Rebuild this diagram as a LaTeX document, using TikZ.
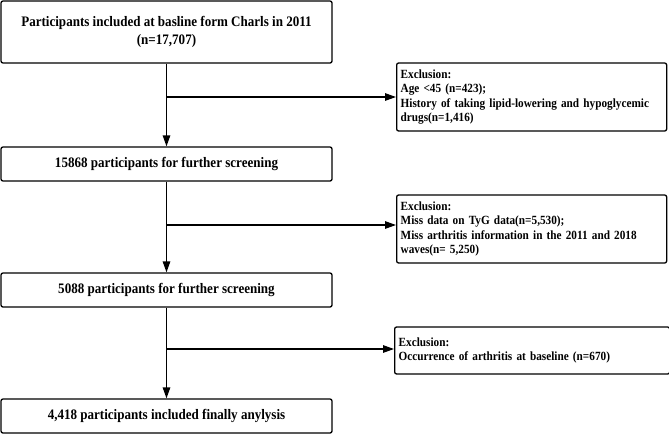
\documentclass[tikz,border=0pt]{standalone}
\usepackage{fontspec}
\setmainfont{Liberation Serif}[FakeStretch=0.9]
\usetikzlibrary{arrows.meta}
\hyphenpenalty=10000

\begin{document}
\begin{tikzpicture}[x=1pt,y=-1pt,
	mainbox/.style={draw, rounded corners=2pt, line width=1.3pt, minimum width=331pt, minimum height=34pt, align=center, font=\fontsize{14.5}{18}\selectfont\bfseries},
	exbox/.style={draw, rounded corners=2pt, line width=1.3pt, anchor=west, text width=262pt, inner xsep=4pt, align=left, font=\fontsize{12.5}{14.6}\selectfont\bfseries},
	flow/.style={line width=1.3pt, -{Triangle[length=11pt,width=7.5pt]}}]
		\useasboundingbox (0,0) rectangle (669,434);
		% main boxes
		\node[mainbox, minimum height=62pt] (start) at (166.5,32) {Participants included at basline form Charls in 2011\\(n=17,707)};
		\node[mainbox] (screenA) at (166.5,164) {15868 participants for further screening};
		\node[mainbox] (screenB) at (166.5,290) {5088 participants for further screening};
		\node[mainbox] (final) at (166.5,416) {4,418 participants included finally anylysis};
		% exclusions
		\node[exbox, minimum height=68pt] (exA) at (396,97) {Exclusion:\\Age <45 (n=423);\\History of taking lipid-lowering and hypoglycemic\\drugs(n=1,416)};
		\node[exbox, minimum height=68pt] (exB) at (396,229) {Exclusion:\\Miss data on TyG data(n=5,530);\\Miss arthritis information in the 2011 and 2018\\waves(n= 5,250)};
		\node[exbox, minimum height=47pt, text width=267pt] (exC) at (394,350.5) {Exclusion:\\Occurrence of arthritis at baseline (n=670)};
		% branch points
		\coordinate (cA) at (166.5,97);
		\coordinate (cB) at (166.5,225);
		\coordinate (cC) at (166.5,349);
		% arrows
		\draw[flow] (start) -- (screenA);
		\draw[flow] (screenA) -- (screenB);
		\draw[flow] (screenB) -- (final);
		\draw[flow] (cA) -- (exA.west |- cA);
		\draw[flow] (cB) -- (exB.west |- cB);
		\draw[flow] (cC) -- (exC.west |- cC);
	\end{tikzpicture}
\end{document}
